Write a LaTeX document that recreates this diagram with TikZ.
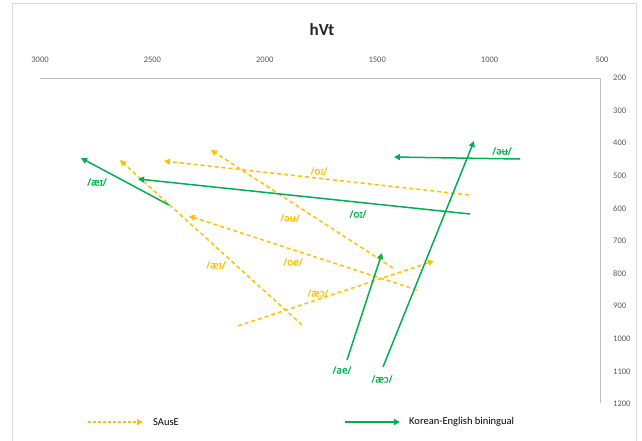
\documentclass[tikz,border=0pt]{standalone}
\usepackage{fontspec}
\setmainfont{Carlito}
\newfontfamily\ipafont[FakeBold=0.8]{Noto Sans}
\usetikzlibrary{arrows.meta}
\definecolor{gold}{HTML}{FFC000}
\definecolor{kgreen}{HTML}{00B050}
\definecolor{axgray}{HTML}{595959}
\definecolor{linegray}{HTML}{BFBFBF}
\definecolor{framegray}{HTML}{D9D9D9}
\begin{document}
\begin{tikzpicture}[x=1pt,y=-1pt,
  sause/.style={draw=gold,line width=1.5pt,dash pattern=on 4pt off 3pt,-{Triangle[length=6pt,width=6pt]}},
  kor/.style={draw=kgreen,line width=1.5pt,-{Triangle[length=6pt,width=6pt]}},
  glab/.style={text=kgreen,font=\ipafont\fontsize{10}{11}\selectfont,inner sep=1pt},
  ylab/.style={text=gold,font=\ipafont\fontsize{10}{11}\selectfont,inner sep=1pt},
  tick/.style={text=axgray,font=\fontsize{8.5}{9}\selectfont,inner sep=0pt},
  legtext/.style={text=black,font=\fontsize{10.5}{11}\selectfont,anchor=west,inner sep=0pt}]
\useasboundingbox (0,0) rectangle (642,440);
\fill[white] (0,0) rectangle (642,440);
\draw[framegray,line width=0.6pt] (12,3) rectangle (636,445);
% title
\node[font=\bfseries\fontsize{17}{18}\selectfont,text=black!85] (title) at (322,30) {hVt};
% axes
\coordinate (axL) at (40,78);
\coordinate (axC) at (600,78);
\coordinate (axB) at (600,403);
\draw[linegray,line width=0.8pt] (axL) -- (axC) -- (axB);
\foreach \v [count=\i from 0] in {3000,2500,2000,1500,1000,500}
  \node[tick] (xt\i) at ({40+\i*112.4},60) {\v};
\foreach \v [count=\i from 0] in {200,300,400,500,600,700,800,900,1000,1100,1200}
  \node[tick,anchor=west] (yt\i) at (613,{78+\i*32.6}) {\v};
% Korean-English (green)
\coordinate (g1s) at (520,159); \coordinate (g1e) at (394,157);
\coordinate (g2s) at (470,214); \coordinate (g2e) at (138,179);
\coordinate (g3s) at (169,205); \coordinate (g3e) at (81,158);
\coordinate (g4s) at (347,360); \coordinate (g4e) at (382,253);
\coordinate (g5s) at (383,367); \coordinate (g5e) at (474,141);
% SAusE (yellow)
\coordinate (y1s) at (469,195); \coordinate (y1e) at (164,161);
\coordinate (y2s) at (393,268); \coordinate (y2e) at (211,150);
\coordinate (y3s) at (302,325); \coordinate (y3e) at (120,160);
\coordinate (y4s) at (417,290); \coordinate (y4e) at (189,216);
\coordinate (y5s) at (238,326); \coordinate (y5e) at (434,261);
\draw[sause] (y1s) -- (y1e);
\draw[sause] (y2s) -- (y2e);
\draw[sause] (y3s) -- (y3e);
\draw[sause] (y4s) -- (y4e);
\draw[sause] (y5s) -- (y5e);
\draw[kor] (g1s) -- (g1e);
\draw[kor] (g2s) -- (g2e);
\draw[kor] (g3s) -- (g3e);
\draw[kor] (g4s) -- (g4e);
\draw[kor] (g5s) -- (g5e);
% labels
\node[glab] (lg1) at (502,151) {/əʉ/};
\node[glab] (lg2) at (358,214) {/oɪ/};
\node[glab] (lg3) at (97,182) {/æɪ/};
\node[glab] (lg4) at (342,370) {/ae/};
\node[glab] (lg5) at (382,379) {/æɔ/};
\node[ylab] (ly1) at (319,171) {/oɪ/};
\node[ylab] (ly2) at (290,218) {/əʉ/};
\node[ylab] (ly3) at (216,265) {/æɪ/};
\node[ylab] (ly4) at (293,262) {/oe/};
\node[ylab] (ly5) at (318,293) {/æɔ/};
% legend
\coordinate (l1s) at (88,422); \coordinate (l1e) at (143,422);
\coordinate (l2s) at (345,422); \coordinate (l2e) at (400,422);
\draw[sause,dash pattern=on 3pt off 2pt] (l1s) -- (l1e);
\draw[kor] (l2s) -- (l2e);
\node[legtext] (leg1) at (153,422) {SAusE};
\node[legtext] (leg2) at (409,422) {Korean-English biningual};
\end{tikzpicture}
\end{document}
